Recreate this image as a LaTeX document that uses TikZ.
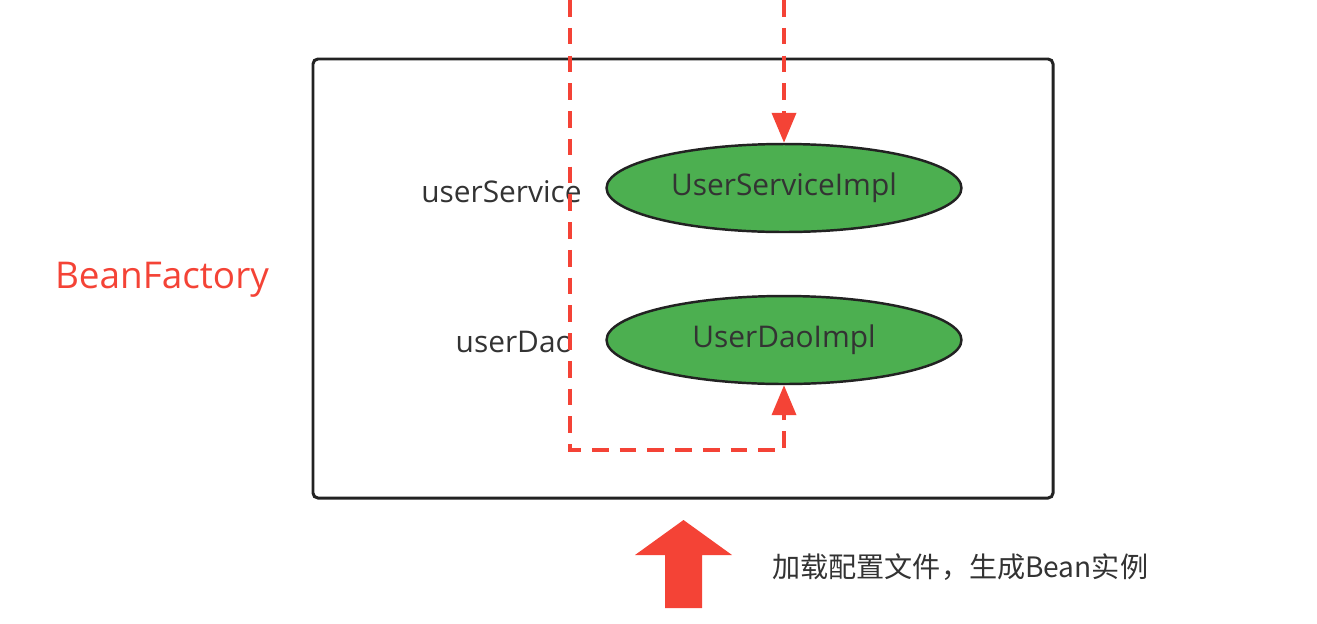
\documentclass[tikz,border=0pt]{standalone}
\usepackage{fontspec}
\setmainfont{Open Sans}
\newfontfamily\cjk{Noto Sans CJK SC}
\usetikzlibrary{arrows.meta,shapes.geometric}
\definecolor{beanred}{HTML}{F44336}
\definecolor{beangreen}{HTML}{4CAF50}
\definecolor{inktext}{HTML}{333333}
\definecolor{inkline}{HTML}{222222}

\begin{document}
\begin{tikzpicture}[x=0.02cm,y=-0.02cm,
  impl/.style={ellipse,draw=inkline,line width=1.4pt,fill=beangreen,
    minimum width=7.1cm,minimum height=1.76cm,inner sep=0pt,
    text=inktext,font=\fontsize{17}{20}\selectfont},
  beanname/.style={anchor=east,inner sep=0pt,text=inktext,
    font=\fontsize{17}{20}\selectfont},
  inject/.style={draw=beanred,line width=2.2pt,dash pattern=on 9.5pt off 6.3pt,
    -{Triangle[width=0.48cm,length=0.6cm]}}]

\useasboundingbox (0,0) rectangle (1317,623);

% the container
\draw [inkline,line width=1.7pt,rounded corners=2.8pt] (313,59) rectangle (1053,498);
\node [text=beanred,font=\fontsize{21}{24}\selectfont] (factory) at (162,280) {BeanFactory};

\node [impl] (svc) at (784,188) {UserServiceImpl};
\node [impl] (dao) at (784,340) {UserDaoImpl};

\node [beanname] (svcname) at (582,192) {userService};
\node [beanname] (daoname) at (574,342) {userDao};

% injection paths
\coordinate (inL) at (570,0);
\coordinate (inR) at (784,0);
\coordinate (bend) at (784,450);
\draw [inject] (inR) -- (svc.north);
\draw [inject] (inL) |- (bend) -- (dao.south);

% loading
\fill [beanred] (665,608) -- (665,555) -- (635,555) -- (683.5,520) -- (732,555)
  -- (702,555) -- (702,608) -- cycle;
\node [anchor=west,inner sep=0pt,text=inktext,font=\cjk\fontsize{16}{19}\selectfont]
  (load) at (772,567) {加载配置文件，生成Bean实例};

\end{tikzpicture}
\end{document}
